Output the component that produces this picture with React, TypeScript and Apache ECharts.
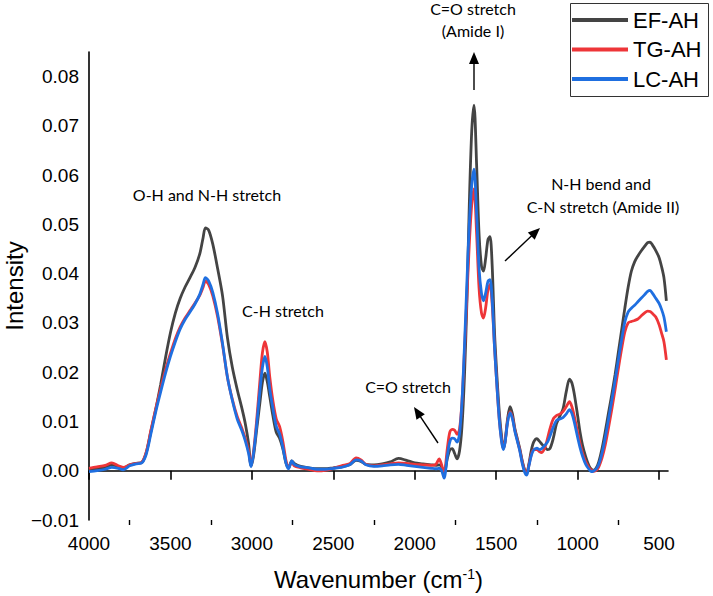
import React, { useEffect, useRef } from "react";
import * as echarts from "echarts";

const seriesNames = ["EF-AH", "TG-AH", "LC-AH"];
const seriesColors = ["#444444", "#ee3538", "#1f6fe0"];

const xMajorTicks = [4000, 3500, 3000, 2500, 2000, 1500, 1000, 500];
const xMinorTicks = [3750, 3250, 2750, 2250, 1750, 1250, 750];

const wavenumbers = [
  4000, 3950, 3900, 3860, 3820, 3790, 3750, 3710, 3680, 3650,
  3620, 3590, 3560, 3530, 3500, 3470, 3440, 3410, 3380, 3350,
  3320, 3300, 3285, 3265, 3240, 3210, 3180, 3150, 3120, 3090,
  3060, 3040, 3020, 3005, 2990, 2970, 2950, 2935, 2920, 2905,
  2890, 2870, 2850, 2830, 2810, 2790, 2775, 2755, 2740, 2700,
  2650, 2600, 2550, 2500, 2450, 2400, 2360, 2330, 2300, 2250,
  2200, 2150, 2100, 2050, 2000, 1950, 1900, 1870, 1850, 1835,
  1820, 1800, 1785, 1770, 1755, 1740, 1725, 1710, 1695, 1680,
  1665, 1650, 1636, 1620, 1605, 1590, 1578, 1565, 1550, 1538,
  1525, 1510, 1495, 1480, 1465, 1455, 1445, 1430, 1415, 1400,
  1385, 1370, 1355, 1340, 1325, 1312, 1300, 1285, 1270, 1250,
  1235, 1220, 1200, 1185, 1170, 1150, 1130, 1110, 1090, 1070,
  1050, 1035, 1020, 1000, 985, 970, 950, 930, 915, 900,
  885, 870, 850, 830, 810, 790, 770, 750, 730, 710,
  690, 670, 650, 630, 610, 590, 570, 555, 540, 520,
  500, 485, 470, 455,
];

const efAH = [
  0.0002, 0.0004, 0.0007, 0.0012, 0.0008, 0.0005, 0.0012, 0.0015, 0.0016, 0.0035,
  0.0080, 0.0125, 0.0175, 0.0230, 0.0280, 0.0320, 0.0350, 0.0373, 0.0392, 0.0412,
  0.0440, 0.0472, 0.0493, 0.0488, 0.0460, 0.0410, 0.0355, 0.0270, 0.0210, 0.0165,
  0.0125, 0.0095, 0.0055, 0.0010, 0.0030, 0.0085, 0.0140, 0.0180, 0.0198, 0.0180,
  0.0150, 0.0110, 0.0078, 0.0066, 0.0045, 0.0015, 0.0006, 0.0020, 0.0015, 0.0009,
  0.0006, 0.0004, 0.0004, 0.0006, 0.0008, 0.0012, 0.0021, 0.0019, 0.0013, 0.0012,
  0.0014, 0.0018, 0.0025, 0.0021, 0.0016, 0.0014, 0.0012, 0.0011, 0.0012, 0.0008,
  -0.0008, 0.0025, 0.0042, 0.0045, 0.0035, 0.0024, 0.0040, 0.0090, 0.0190, 0.0340,
  0.0540, 0.0690, 0.0742, 0.0620, 0.0480, 0.0415, 0.0405, 0.0430, 0.0470, 0.0475,
  0.0420, 0.0280, 0.0190, 0.0115, 0.0065, 0.0045, 0.0060, 0.0105, 0.0130, 0.0115,
  0.0085, 0.0065, 0.0045, 0.0020, 0.0002, -0.0004, 0.0012, 0.0040, 0.0058, 0.0065,
  0.0060, 0.0054, 0.0047, 0.0043, 0.0045, 0.0065, 0.0095, 0.0110, 0.0125, 0.0160,
  0.0186, 0.0178, 0.0155, 0.0112, 0.0078, 0.0052, 0.0028, 0.0010, 0.0003, 0.0001,
  0.0006, 0.0018, 0.0045, 0.0080, 0.0118, 0.0155, 0.0195, 0.0240, 0.0285, 0.0330,
  0.0372, 0.0405, 0.0424, 0.0436, 0.0446, 0.0455, 0.0463, 0.0464, 0.0458, 0.0447,
  0.0433, 0.0415, 0.0392, 0.0345,
];

const tgAH = [
  0.0005, 0.0008, 0.0011, 0.0016, 0.0010, 0.0007, 0.0012, 0.0015, 0.0016, 0.0036,
  0.0082, 0.0126, 0.0167, 0.0205, 0.0238, 0.0268, 0.0292, 0.0310, 0.0325, 0.0340,
  0.0356, 0.0372, 0.0385, 0.0378, 0.0355, 0.0312, 0.0255, 0.0190, 0.0145, 0.0110,
  0.0085, 0.0065, 0.0040, 0.0012, 0.0038, 0.0105, 0.0185, 0.0240, 0.0262, 0.0240,
  0.0190, 0.0140, 0.0105, 0.0090, 0.0060, 0.0020, 0.0006, 0.0018, 0.0010, 0.0006,
  0.0003, 0.0000, 0.0001, 0.0005, 0.0010, 0.0014, 0.0026, 0.0022, 0.0013, 0.0010,
  0.0012, 0.0014, 0.0016, 0.0015, 0.0013, 0.0012, 0.0011, 0.0013, 0.0024, 0.0012,
  -0.0005, 0.0045, 0.0078, 0.0084, 0.0082, 0.0074, 0.0085, 0.0140, 0.0240, 0.0350,
  0.0460, 0.0540, 0.0572, 0.0480, 0.0370, 0.0320, 0.0310, 0.0330, 0.0368, 0.0378,
  0.0340, 0.0250, 0.0170, 0.0100, 0.0058, 0.0046, 0.0060, 0.0100, 0.0120, 0.0108,
  0.0082, 0.0062, 0.0042, 0.0018, 0.0000, -0.0005, 0.0010, 0.0032, 0.0043, 0.0043,
  0.0039, 0.0037, 0.0048, 0.0065, 0.0085, 0.0105, 0.0112, 0.0115, 0.0120, 0.0130,
  0.0140, 0.0130, 0.0110, 0.0078, 0.0055, 0.0036, 0.0018, 0.0006, 0.0001, -0.0001,
  0.0001, 0.0008, 0.0026, 0.0053, 0.0088, 0.0125, 0.0165, 0.0207, 0.0247, 0.0282,
  0.0300, 0.0303, 0.0305, 0.0308, 0.0314, 0.0320, 0.0324, 0.0323, 0.0319, 0.0312,
  0.0297, 0.0280, 0.0262, 0.0225,
];

const lcAH = [
  -0.0002, 0.0000, 0.0003, 0.0007, 0.0005, 0.0002, 0.0010, 0.0014, 0.0015, 0.0032,
  0.0075, 0.0120, 0.0160, 0.0198, 0.0232, 0.0262, 0.0288, 0.0307, 0.0322, 0.0338,
  0.0358, 0.0378, 0.0392, 0.0385, 0.0362, 0.0318, 0.0258, 0.0190, 0.0143, 0.0105,
  0.0080, 0.0060, 0.0035, 0.0008, 0.0035, 0.0095, 0.0165, 0.0210, 0.0232, 0.0210,
  0.0165, 0.0125, 0.0090, 0.0075, 0.0048, 0.0015, 0.0004, 0.0020, 0.0013, 0.0008,
  0.0006, 0.0003, 0.0003, 0.0005, 0.0007, 0.0012, 0.0022, 0.0020, 0.0012, 0.0009,
  0.0010, 0.0012, 0.0013, 0.0011, 0.0009, 0.0007, 0.0005, 0.0004, 0.0005, 0.0000,
  -0.0015, 0.0030, 0.0058, 0.0066, 0.0065, 0.0058, 0.0075, 0.0140, 0.0250, 0.0380,
  0.0500, 0.0580, 0.0612, 0.0520, 0.0410, 0.0360, 0.0345, 0.0360, 0.0385, 0.0388,
  0.0350, 0.0250, 0.0170, 0.0100, 0.0055, 0.0043, 0.0058, 0.0098, 0.0118, 0.0105,
  0.0080, 0.0060, 0.0040, 0.0015, -0.0003, -0.0009, 0.0008, 0.0030, 0.0042, 0.0046,
  0.0043, 0.0045, 0.0052, 0.0058, 0.0070, 0.0088, 0.0102, 0.0105, 0.0108, 0.0115,
  0.0124, 0.0116, 0.0098, 0.0068, 0.0047, 0.0030, 0.0013, 0.0003, -0.0002, 0.0000,
  0.0004, 0.0013, 0.0036, 0.0068, 0.0105, 0.0143, 0.0183, 0.0225, 0.0265, 0.0302,
  0.0322, 0.0330, 0.0336, 0.0343, 0.0350, 0.0357, 0.0364, 0.0366, 0.0360, 0.0350,
  0.0340, 0.0328, 0.0312, 0.0282,
];

const seriesValues = [efAH, tgAH, lcAH];

const annFont = "Lato, 'Open Sans', sans-serif";
const axisFont = "'Liberation Sans', Arial, sans-serif";

function annText(text: string, x: number, y: number) {
  return {
    type: "text",
    style: {
      text,
      x,
      y,
      align: "center",
      verticalAlign: "middle",
      fontSize: 16,
      fontFamily: annFont,
      fill: "#000",
    },
  };
}

function arrow(x1: number, y1: number, x2: number, y2: number) {
  const dx = x2 - x1;
  const dy = y2 - y1;
  const len = Math.sqrt(dx * dx + dy * dy);
  const ux = dx / len;
  const uy = dy / len;
  const headLen = 12;
  const halfW = 5;
  const bx = x2 - ux * headLen;
  const by = y2 - uy * headLen;
  const px = -uy;
  const py = ux;
  return [
    {
      type: "line",
      shape: { x1, y1, x2: bx + ux * 2, y2: by + uy * 2 },
      style: { stroke: "#000", lineWidth: 1.4 },
    },
    {
      type: "polygon",
      shape: {
        points: [
          [x2, y2],
          [bx + px * halfW, by + py * halfW],
          [bx - px * halfW, by - py * halfW],
        ],
      },
      style: { fill: "#000" },
    },
  ];
}

export default function App() {
  const ref = useRef<HTMLDivElement>(null);

  useEffect(() => {
    if (!ref.current) return;
    const chart = echarts.init(ref.current, null, { renderer: "svg" });

    const series = seriesNames.map((name, i) => ({
      name,
      type: "line",
      data: wavenumbers.map((w, j) => [w, seriesValues[i][j]]),
      showSymbol: false,
      symbol: "none",
      smooth: 0.3,
      lineStyle: { color: seriesColors[i], width: 2.8 },
      itemStyle: { color: seriesColors[i] },
      z: 2 + i,
    }));

    const option: any = {
      animation: false,
      backgroundColor: "#fff",
      grid: {
        left: 89,
        right: 45,
        top: 52,
        bottom: 76,
        containLabel: false,
        outerBoundsMode: "none",
      },
      legend: {
        data: seriesNames,
        orient: "vertical",
        left: 572,
        top: 9,
        padding: 0,
        itemGap: 7.5,
        itemWidth: 56,
        itemHeight: 4,
        icon: "rect",
        textStyle: {
          fontSize: 22,
          fontFamily: axisFont,
          color: "#000",
          lineHeight: 22,
        },
      },
      xAxis: [
        {
          type: "value",
          inverse: true,
          min: 445,
          max: 4000,
          position: "bottom",
          name: "Wavenumber (cm{sup|-1})",
          nameLocation: "middle",
          nameGap: 47,
          nameMoveOverlap: false,
          nameTextStyle: {
            fontSize: 24,
            fontFamily: axisFont,
            color: "#000",
            rich: {
              sup: {
                fontSize: 14,
                fontFamily: axisFont,
                color: "#000",
                verticalAlign: "top",
                padding: [0, 0, 10, 0],
              },
            },
          },
          axisLine: { show: true, lineStyle: { color: "#000", width: 1.6 } },
          axisTick: {
            show: true,
            length: 9,
            customValues: xMajorTicks,
            lineStyle: { color: "#000", width: 1.6 },
          },
          axisLabel: {
            customValues: xMajorTicks,
            fontSize: 19,
            fontFamily: axisFont,
            color: "#000",
            margin: 14,
            formatter: (v: number) => String(v),
          },
          splitLine: { show: false },
        },
        {
          type: "value",
          inverse: true,
          min: 445,
          max: 4000,
          position: "bottom",
          offset: 0,
          axisLine: { show: false },
          axisTick: {
            show: true,
            length: 5,
            customValues: xMinorTicks,
            lineStyle: { color: "#000", width: 1.4 },
          },
          axisLabel: { show: false },
          splitLine: { show: false },
        },
      ],
      yAxis: {
        type: "value",
        min: -0.01,
        max: 0.085,
        interval: 0.01,
        name: "Intensity",
        nameLocation: "middle",
        nameRotate: 90,
        nameGap: 63,
        nameMoveOverlap: false,
        nameTextStyle: { fontSize: 24, fontFamily: axisFont, color: "#000" },
        axisLine: { show: true, lineStyle: { color: "#000", width: 1.6 } },
        axisTick: { show: false },
        splitLine: { show: false },
        axisLabel: {
          fontSize: 19,
          fontFamily: axisFont,
          color: "#000",
          margin: 10,
          showMaxLabel: false,
          formatter: (v: number) => v.toFixed(2).replace("-", "\u2212"),
        },
      },
      series,
      graphic: [
        {
          type: "rect",
          shape: { x: 570.5, y: 3.5, width: 138, height: 93 },
          style: { fill: "none", stroke: "#333", lineWidth: 1 },
          z: 100,
        },
        annText("C=O stretch", 473, 8),
        annText("(Amide I)", 473, 30),
        annText("O-H and N-H stretch", 207, 194),
        annText("C-H stretch", 283, 310),
        annText("C=O stretch", 408, 386),
        annText("N-H bend and", 601, 183),
        annText("C-N stretch (Amide II)", 603, 206),
        ...arrow(474, 90, 474, 52),
        ...arrow(505, 261, 540, 228),
        ...arrow(438, 443, 414, 407),
      ],
    };

    chart.setOption(option);
    return () => chart.dispose();
  }, []);

  return (
    <div
      ref={ref}
      style={{
        position: "fixed",
        left: 0,
        top: 0,
        width: 713,
        height: 596,
        background: "#fff",
      }}
    />
  );
}
